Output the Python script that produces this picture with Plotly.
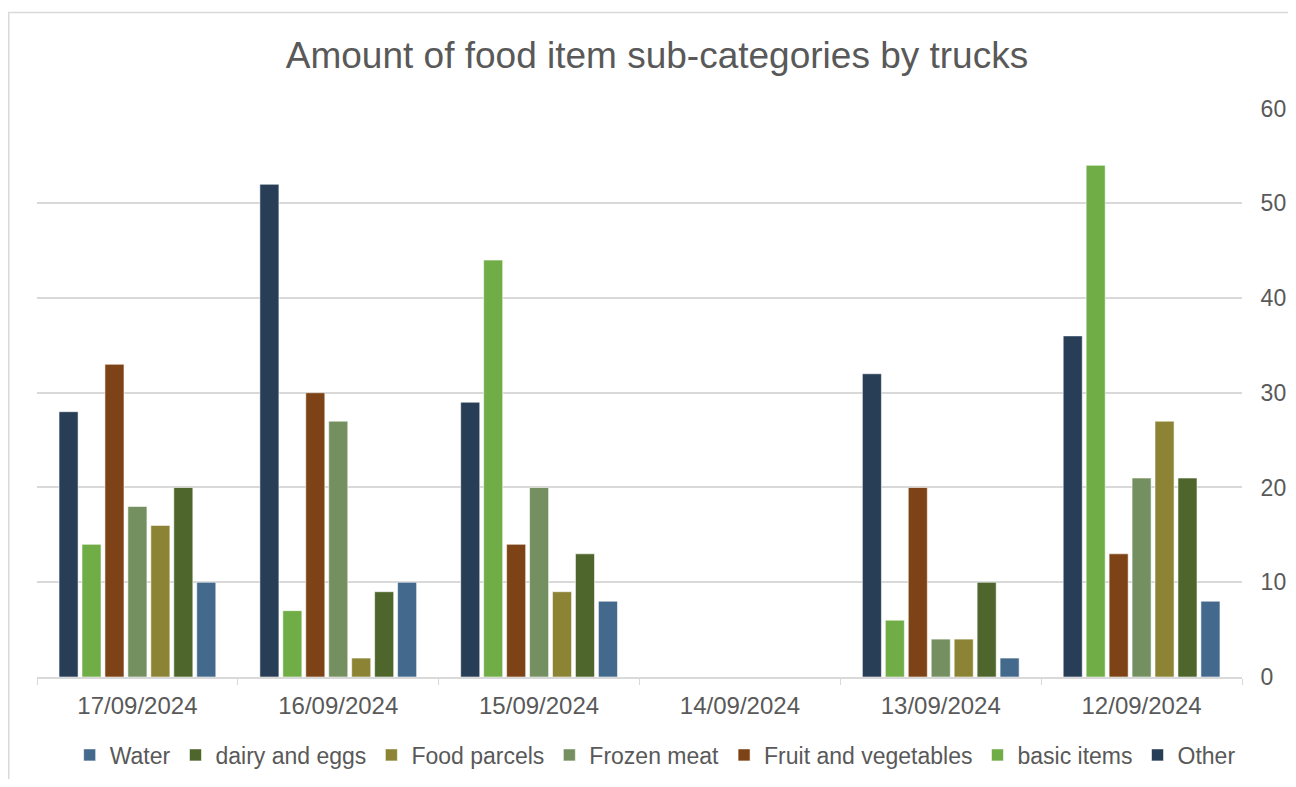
import plotly.graph_objects as go

# categories as shown left -> right
dates = ["17/09/2024", "16/09/2024", "15/09/2024", "14/09/2024", "13/09/2024", "12/09/2024"]

other = [28, 52, 29, None, 32, 36]
basic_items = [14, 7, 44, None, 6, 54]
fruit_veg = [33, 30, 14, None, 20, 13]
frozen_meat = [18, 27, 20, None, 4, 21]
food_parcels = [16, 2, 9, None, 4, 27]
dairy_eggs = [20, 9, 13, None, 10, 21]
water = [10, 10, 8, None, 2, 8]

series = [
    ("Other", other, "#273E56"),
    ("basic items", basic_items, "#70AD47"),
    ("Fruit and vegetables", fruit_veg, "#7D4316"),
    ("Frozen meat", frozen_meat, "#759060"),
    ("Food parcels", food_parcels, "#8D8334"),
    ("dairy and eggs", dairy_eggs, "#4E662C"),
    ("Water", water, "#43698D"),
]

FONT = "Arial, Liberation Sans, sans-serif"
GREY_TXT = "#595959"
GRID = "#d9d9d9"

# page body has an 8px margin; keep the figure inside the window
W, H = 1280, 771

fig = go.Figure()
for name, vals, col in series:
    fig.add_trace(go.Bar(
        x=dates, y=vals, name=name,
        marker=dict(color=col, line=dict(color="rgba(255,255,255,0.7)", width=0.8)),
    ))

fig.update_layout(
    width=W, height=H,
    paper_bgcolor="white", plot_bgcolor="white",
    margin=dict(l=29, r=46, t=100, b=102, autoexpand=False),
    font=dict(family=FONT, color=GREY_TXT),
    barmode="group", bargap=0.2, bargroupgap=0.17,
    title=dict(text="Amount of food item sub-categories by trucks",
               x=649 / W, xanchor="center", xref="container",
               y=1 - 47 / H, yanchor="middle",
               font=dict(size=37, color=GREY_TXT, family=FONT)),
    legend=dict(orientation="h", traceorder="reversed",
                x=0.513, xanchor="center", y=-0.137, yanchor="middle",
                font=dict(size=23, color=GREY_TXT), itemwidth=30),
    showlegend=True,
)

fig.update_xaxes(
    type="category", showgrid=False,
    showline=True, linecolor=GRID, linewidth=1.5,
    ticks="outside", tickson="boundaries", ticklen=6, tickcolor=GRID,
    ticklabelstandoff=6,
    tickfont=dict(size=24, color=GREY_TXT),
)
fig.update_yaxes(
    side="right", range=[0, 60.05], tickvals=[0, 10, 20, 30, 40, 50, 60],
    showgrid=True, gridcolor=GRID, gridwidth=1.5,
    zeroline=False, showline=False,
    ticks="outside", ticklen=13, tickcolor="rgba(0,0,0,0)",
    tickfont=dict(size=23, color=GREY_TXT),
)

# chart frame
fig.add_shape(type="rect", xref="paper", yref="paper",
              x0=-0.0234, x1=1.1, y0=-0.3, y1=1.168,
              line=dict(color=GRID, width=1.5), layer="below")

fig.write_html("out.html")
